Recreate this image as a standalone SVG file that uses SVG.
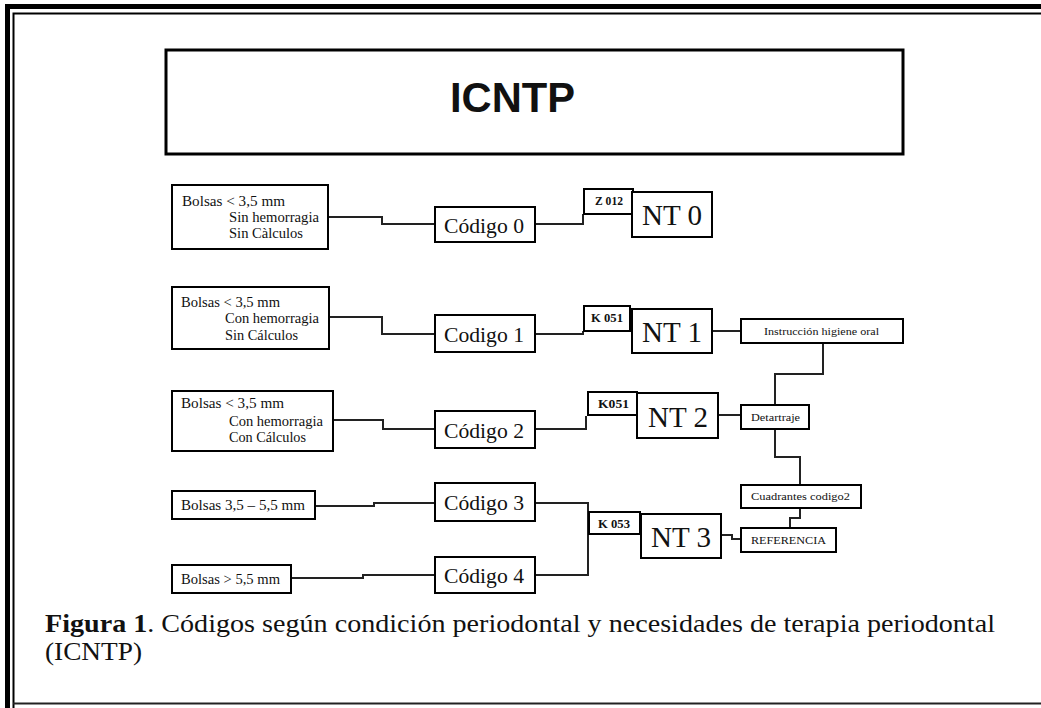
<svg xmlns="http://www.w3.org/2000/svg" width="1041" height="708" viewBox="0 0 1041 708">
<style>
.b{fill:#fff;stroke:#000;stroke-width:2}
.c{fill:none;stroke:#222;stroke-width:2}
text{font-family:"Liberation Serif","Times New Roman",Tinos,Times,serif;fill:#111}
.s{font-size:14px}
.m{font-size:22px}
.n{font-size:30px}
.k{font-size:12px;font-weight:bold}
.x{font-size:11px}
</style>
<rect width="1041" height="708" fill="#fff"/>
<g id="frame">
<path d="M7.5 708V6.5H1041" fill="none" stroke="#000" stroke-width="5"/>
<path d="M13.5 708V13.5H1041" fill="none" stroke="#000" stroke-width="2"/>
<path d="M13 703.5H1041" fill="none" stroke="#222" stroke-width="2"/>
</g>
<g id="title">
<rect x="166" y="50" width="737" height="104" fill="#fff" stroke="#000" stroke-width="3"/>
<text x="450" y="112" style="font-family:'Liberation Sans',Arial,Arimo,sans-serif" font-weight="bold" font-size="42" textLength="125" lengthAdjust="spacingAndGlyphs">ICNTP</text>
</g>
<g id="connectors">
<path class="c" d="M328 217H382V224H435"/>
<path class="c" d="M535 224H583V214"/>
<path class="c" d="M329 317H382V334H435"/>
<path class="c" d="M535 334H583V331"/>
<path class="c" d="M712 331H741"/>
<path class="c" d="M823 343V374H775V405"/>
<path class="c" d="M333 420H383V429H435"/>
<path class="c" d="M535 429H586V416"/>
<path class="c" d="M718 415H741"/>
<path class="c" d="M775 429V457H800V485"/>
<path class="c" d="M800 508V518H790V528"/>
<path class="c" d="M721 535H732V539H741"/>
<path class="c" d="M315 506H374V503H435"/>
<path class="c" d="M291 578H363V575H435"/>
<path class="c" d="M535 503H588V575H535"/>
</g>
<g id="a0">
<rect class="b" x="172" y="185" width="156" height="64"/>
<text class="s" x="182" y="206" textLength="103" lengthAdjust="spacingAndGlyphs">Bolsas  &lt; 3,5 mm</text>
<text class="s" x="229" y="222" textLength="90" lengthAdjust="spacingAndGlyphs">Sin hemorragia</text>
<text class="s" x="229" y="238" textLength="74" lengthAdjust="spacingAndGlyphs">Sin Càlculos</text>
</g>
<g id="c0">
<rect class="b" x="435" y="207" width="100" height="35"/>
<text class="m" x="444" y="233" textLength="80" lengthAdjust="spacingAndGlyphs">Código 0</text>
</g>
<g id="z012">
<rect class="b" x="584" y="189" width="49" height="25"/>
<text class="k" x="595" y="205" textLength="28" lengthAdjust="spacingAndGlyphs">Z 012</text>
</g>
<g id="nt0">
<rect class="b" x="632" y="192" width="80" height="45"/>
<text class="n" x="642" y="225" textLength="60" lengthAdjust="spacingAndGlyphs">NT 0</text>
</g>
<g id="a1">
<rect class="b" x="172" y="287" width="157" height="62"/>
<text class="s" x="181" y="307" textLength="99" lengthAdjust="spacingAndGlyphs">Bolsas &lt; 3,5 mm</text>
<text class="s" x="225" y="323" textLength="94" lengthAdjust="spacingAndGlyphs">Con hemorragia</text>
<text class="s" x="225" y="340" textLength="73" lengthAdjust="spacingAndGlyphs">Sin Cálculos</text>
</g>
<g id="c1">
<rect class="b" x="435" y="315" width="100" height="37"/>
<text class="m" x="444" y="342" textLength="80" lengthAdjust="spacingAndGlyphs">Codigo 1</text>
</g>
<g id="k051a">
<rect class="b" x="584" y="306" width="46" height="25"/>
<text class="k" x="591" y="322" textLength="32" lengthAdjust="spacingAndGlyphs">K 051</text>
</g>
<g id="nt1">
<rect class="b" x="632" y="309" width="80" height="44"/>
<text class="n" x="642" y="342" textLength="60" lengthAdjust="spacingAndGlyphs">NT 1</text>
</g>
<g id="ins">
<rect class="b" x="741" y="319" width="162" height="24"/>
<text class="x" x="764" y="335" textLength="115" lengthAdjust="spacingAndGlyphs">Instrucción higiene oral</text>
</g>
<g id="a2">
<rect class="b" x="172" y="391" width="161" height="60"/>
<text class="s" x="181" y="408" textLength="103" lengthAdjust="spacingAndGlyphs">Bolsas  &lt; 3,5 mm</text>
<text class="s" x="229" y="426" textLength="94" lengthAdjust="spacingAndGlyphs">Con hemorragia</text>
<text class="s" x="229" y="442" textLength="77" lengthAdjust="spacingAndGlyphs">Con Cálculos</text>
</g>
<g id="c2">
<rect class="b" x="435" y="411" width="100" height="37"/>
<text class="m" x="444" y="438" textLength="80" lengthAdjust="spacingAndGlyphs">Código 2</text>
</g>
<g id="k051b">
<rect class="b" x="588" y="392" width="49" height="23"/>
<text class="k" x="598" y="408" textLength="31" lengthAdjust="spacingAndGlyphs">K051</text>
</g>
<g id="nt2">
<rect class="b" x="637" y="393" width="81" height="45"/>
<text class="n" x="648" y="427" textLength="60" lengthAdjust="spacingAndGlyphs">NT 2</text>
</g>
<g id="det">
<rect class="b" x="741" y="405" width="68" height="24"/>
<text class="x" x="751" y="421" textLength="49" lengthAdjust="spacingAndGlyphs">Detartraje</text>
</g>
<g id="cua">
<rect class="b" x="741" y="485" width="120" height="23"/>
<text class="x" x="751" y="500" textLength="99" lengthAdjust="spacingAndGlyphs">Cuadrantes codigo2</text>
</g>
<g id="a3">
<rect class="b" x="172" y="491" width="143" height="28"/>
<text class="s" x="181" y="510" textLength="124" lengthAdjust="spacingAndGlyphs">Bolsas  3,5  – 5,5 mm</text>
</g>
<g id="c3">
<rect class="b" x="435" y="483" width="100" height="38"/>
<text class="m" x="444" y="510" textLength="80" lengthAdjust="spacingAndGlyphs">Código 3</text>
</g>
<g id="k053">
<rect class="b" x="589" y="512" width="51" height="22"/>
<text class="k" x="598" y="528" textLength="32" lengthAdjust="spacingAndGlyphs">K 053</text>
</g>
<g id="nt3">
<rect class="b" x="641" y="514" width="80" height="44"/>
<text class="n" x="651" y="547" textLength="60" lengthAdjust="spacingAndGlyphs">NT 3</text>
</g>
<g id="ref">
<rect class="b" x="741" y="528" width="95" height="24"/>
<text class="x" x="751" y="544" textLength="75" lengthAdjust="spacingAndGlyphs">REFERENCIA</text>
</g>
<g id="a4">
<rect class="b" x="172" y="565" width="119" height="28"/>
<text class="s" x="181" y="584" textLength="99" lengthAdjust="spacingAndGlyphs">Bolsas &gt; 5,5 mm</text>
</g>
<g id="c4">
<rect class="b" x="435" y="557" width="100" height="36"/>
<text class="m" x="444" y="583" textLength="80" lengthAdjust="spacingAndGlyphs">Código 4</text>
</g>
<g id="caption">
<text x="45" y="632" font-size="25" textLength="950" lengthAdjust="spacingAndGlyphs"><tspan font-weight="bold">Figura 1</tspan>. Códigos según condición periodontal y necesidades de terapia periodontal</text>
<text x="45" y="660" font-size="25" textLength="97" lengthAdjust="spacingAndGlyphs">(ICNTP)</text>
</g>
</svg>
